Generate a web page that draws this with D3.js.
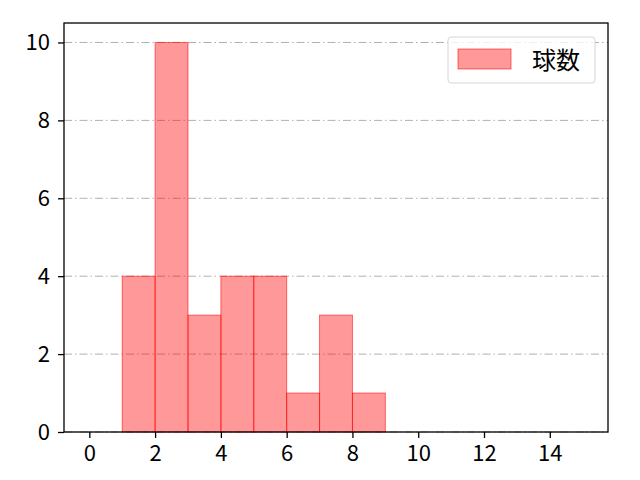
<!DOCTYPE html>
<html>
<head>
<meta charset="utf-8">
<script src="https://cdn.jsdelivr.net/npm/d3@7"></script>
<style>
  body { margin: 0; background: #fff; }
  text { font-family: "Noto Sans CJK JP", "DejaVu Sans", sans-serif; }
</style>
</head>
<body>
<svg id="chart"></svg>
<script>
let width = 640, height = 480;
let margin = {top: 23, right: 32, bottom: 48, left: 64};

// histogram bins (left edge, right edge) and counts
let binStarts = [1, 2, 3, 4, 5, 6, 7, 8];
let binEnds   = [2, 3, 4, 5, 6, 7, 8, 9];
let counts    = [4, 10, 3, 4, 4, 1, 3, 1];
let xTicks = [0, 2, 4, 6, 8, 10, 12, 14];
let yTicks = [0, 2, 4, 6, 8, 10];
let seriesName = "球数";

let svg = d3.select("#chart")
  .attr("width", width)
  .attr("height", height);

let x = d3.scaleLinear()
  .domain([-0.77, 15.77])
  .range([margin.left, width - margin.right]);

let y = d3.scaleLinear()
  .domain([0, 10.5])
  .range([height - margin.bottom, margin.top]);

// grid lines
svg.append("g")
  .selectAll("line")
  .data(yTicks)
  .enter().append("line")
    .attr("x1", margin.left)
    .attr("x2", width - margin.right)
    .attr("y1", d => y(d))
    .attr("y2", d => y(d))
    .attr("stroke", "#b0b0b0")
    .attr("stroke-width", 1)
    .attr("stroke-dasharray", "8,3,1.5,3");

// bars
svg.append("g")
  .selectAll("rect")
  .data(counts)
  .enter().append("rect")
    .attr("x", (d, i) => x(binStarts[i]))
    .attr("width", (d, i) => x(binEnds[i]) - x(binStarts[i]))
    .attr("y", d => y(d))
    .attr("height", d => y(0) - y(d))
    .attr("fill", "rgba(255,0,0,0.4)")
    .attr("stroke", "rgba(255,0,0,0.55)")
    .attr("stroke-width", 1);

// axes
let xAxis = d3.axisBottom(x).tickValues(xTicks).tickSize(6).tickPadding(7).tickFormat(d3.format("d"));
let yAxis = d3.axisLeft(y).tickValues(yTicks).tickSize(6).tickPadding(8).tickFormat(d3.format("d"));

let gx = svg.append("g")
  .attr("transform", "translate(0," + (height - margin.bottom) + ")")
  .call(xAxis);
let gy = svg.append("g")
  .attr("transform", "translate(" + margin.left + ",0)")
  .call(yAxis);

[gx, gy].forEach(g => {
  g.select(".domain").remove();
  g.selectAll(".tick line").attr("stroke", "#000").attr("stroke-width", 1.3);
  g.selectAll(".tick text").attr("fill", "#000").style("font-size", "22px");
});

// frame
svg.append("rect")
  .attr("x", margin.left)
  .attr("y", margin.top)
  .attr("width", width - margin.left - margin.right)
  .attr("height", height - margin.top - margin.bottom)
  .attr("fill", "none")
  .attr("stroke", "#000")
  .attr("stroke-width", 1.3);

// legend
let legend = svg.append("g").attr("transform", "translate(448,37)");
legend.append("rect")
  .attr("width", 147)
  .attr("height", 46)
  .attr("rx", 3)
  .attr("fill", "rgba(255,255,255,0.8)")
  .attr("stroke", "#d6d6d6");
legend.append("rect")
  .attr("x", 10)
  .attr("y", 12)
  .attr("width", 53)
  .attr("height", 20)
  .attr("fill", "rgba(255,0,0,0.4)")
  .attr("stroke", "rgba(255,0,0,0.55)");
legend.append("text")
  .attr("x", 84)
  .attr("y", 32)
  .style("font-size", "24px")
  .text(seriesName);
</script>
</body>
</html>
